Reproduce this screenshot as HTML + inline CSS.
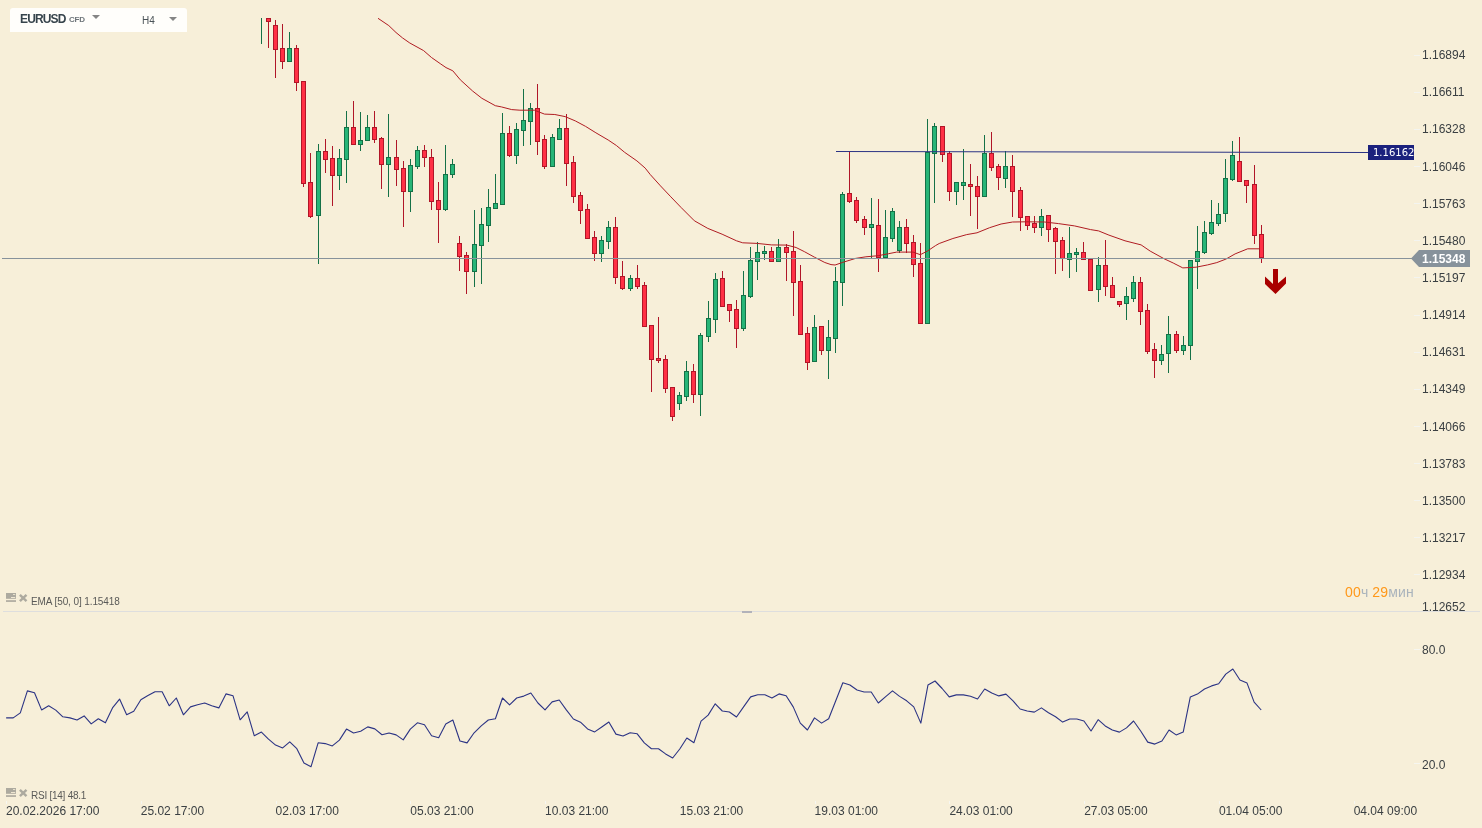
<!DOCTYPE html>
<html><head><meta charset="utf-8"><title>EURUSD H4</title>
<style>
html,body{margin:0;padding:0}
body{width:1482px;height:828px;background:#f7efd9;position:relative;overflow:hidden;font-family:"Liberation Sans",sans-serif;color:#3b4043}
svg{position:absolute;left:0;top:0}
div{position:absolute;white-space:nowrap}
.ax{left:1422px;font-size:12px;line-height:14px;height:14px}
.tm{top:804px;font-size:12px;line-height:14px}
.box{left:10px;top:8px;width:177px;height:24px;background:#fffefb;border-radius:3px 3px 0 0}
.sym{left:20px;top:12px;font-size:12px;line-height:14px;font-weight:bold;color:#37444c;letter-spacing:-0.85px}
.cfd{left:69px;top:15px;font-size:8px;line-height:10px;font-weight:bold;color:#6d7479;letter-spacing:-0.2px}
.tf{left:142px;top:14.5px;font-size:10px;line-height:12px;color:#4a5257}
.tri{width:0;height:0;border-left:4px solid transparent;border-right:4px solid transparent;border-top:4px solid #858585}
.ind{font-size:10px;line-height:12px;color:#5a5a58;left:31px;letter-spacing:-0.1px}
.blab{left:1373px;top:145px;width:41px;height:15px;overflow:hidden;font-family:"DejaVu Sans",sans-serif;font-size:10px;line-height:15px;color:#fff}
.glab{left:1422px;top:252px;font-size:12px;line-height:14px;color:#fff;font-weight:bold}
.timer{left:1345px;top:584px;font-size:14px;line-height:16px;color:#a9b3bc;letter-spacing:0.15px}
.timer b{font-weight:normal;color:#ff981a}
</style></head><body>
<svg width="1482" height="828" viewBox="0 0 1482 828">
<g shape-rendering="crispEdges">
<rect x="261" y="18" width="1" height="26" fill="#157147"/>
<rect x="268" y="18" width="1" height="30" fill="#b01628"/>
<rect x="266" y="18" width="5" height="4" fill="#b01628"/>
<rect x="267" y="19" width="3" height="2" fill="#ff3045"/>
<rect x="275" y="20" width="1" height="58" fill="#b01628"/>
<rect x="273" y="25" width="5" height="25" fill="#b01628"/>
<rect x="274" y="26" width="3" height="23" fill="#ff3045"/>
<rect x="282" y="24" width="1" height="45" fill="#b01628"/>
<rect x="280" y="48" width="5" height="14" fill="#b01628"/>
<rect x="281" y="49" width="3" height="12" fill="#ff3045"/>
<rect x="289" y="32" width="1" height="30" fill="#157147"/>
<rect x="287" y="48" width="5" height="14" fill="#157147"/>
<rect x="288" y="49" width="3" height="12" fill="#27b577"/>
<rect x="296" y="45" width="1" height="46" fill="#b01628"/>
<rect x="294" y="48" width="5" height="35" fill="#b01628"/>
<rect x="295" y="49" width="3" height="33" fill="#ff3045"/>
<rect x="303" y="81" width="1" height="106" fill="#b01628"/>
<rect x="301" y="81" width="5" height="103" fill="#b01628"/>
<rect x="302" y="82" width="3" height="101" fill="#ff3045"/>
<rect x="310" y="153" width="1" height="65" fill="#b01628"/>
<rect x="308" y="182" width="5" height="35" fill="#b01628"/>
<rect x="309" y="183" width="3" height="33" fill="#ff3045"/>
<rect x="318" y="144" width="1" height="120" fill="#157147"/>
<rect x="316" y="151" width="5" height="65" fill="#157147"/>
<rect x="317" y="152" width="3" height="63" fill="#27b577"/>
<rect x="325" y="139" width="1" height="34" fill="#b01628"/>
<rect x="323" y="151" width="5" height="9" fill="#b01628"/>
<rect x="324" y="152" width="3" height="7" fill="#ff3045"/>
<rect x="332" y="146" width="1" height="60" fill="#b01628"/>
<rect x="330" y="158" width="5" height="18" fill="#b01628"/>
<rect x="331" y="159" width="3" height="16" fill="#ff3045"/>
<rect x="339" y="149" width="1" height="41" fill="#157147"/>
<rect x="337" y="158" width="5" height="18" fill="#157147"/>
<rect x="338" y="159" width="3" height="16" fill="#27b577"/>
<rect x="346" y="111" width="1" height="72" fill="#157147"/>
<rect x="344" y="127" width="5" height="33" fill="#157147"/>
<rect x="345" y="128" width="3" height="31" fill="#27b577"/>
<rect x="353" y="101" width="1" height="44" fill="#b01628"/>
<rect x="351" y="127" width="5" height="18" fill="#b01628"/>
<rect x="352" y="128" width="3" height="16" fill="#ff3045"/>
<rect x="360" y="112" width="1" height="39" fill="#157147"/>
<rect x="358" y="140" width="5" height="5" fill="#157147"/>
<rect x="359" y="141" width="3" height="3" fill="#27b577"/>
<rect x="367" y="115" width="1" height="26" fill="#157147"/>
<rect x="365" y="127" width="5" height="14" fill="#157147"/>
<rect x="366" y="128" width="3" height="12" fill="#27b577"/>
<rect x="374" y="111" width="1" height="32" fill="#b01628"/>
<rect x="372" y="127" width="5" height="13" fill="#b01628"/>
<rect x="373" y="128" width="3" height="11" fill="#ff3045"/>
<rect x="381" y="137" width="1" height="52" fill="#b01628"/>
<rect x="379" y="138" width="5" height="27" fill="#b01628"/>
<rect x="380" y="139" width="3" height="25" fill="#ff3045"/>
<rect x="388" y="114" width="1" height="83" fill="#157147"/>
<rect x="386" y="157" width="5" height="8" fill="#157147"/>
<rect x="387" y="158" width="3" height="6" fill="#27b577"/>
<rect x="396" y="140" width="1" height="46" fill="#b01628"/>
<rect x="394" y="157" width="5" height="13" fill="#b01628"/>
<rect x="395" y="158" width="3" height="11" fill="#ff3045"/>
<rect x="403" y="161" width="1" height="66" fill="#b01628"/>
<rect x="401" y="168" width="5" height="24" fill="#b01628"/>
<rect x="402" y="169" width="3" height="22" fill="#ff3045"/>
<rect x="410" y="159" width="1" height="53" fill="#157147"/>
<rect x="408" y="165" width="5" height="27" fill="#157147"/>
<rect x="409" y="166" width="3" height="25" fill="#27b577"/>
<rect x="417" y="146" width="1" height="23" fill="#157147"/>
<rect x="415" y="150" width="5" height="17" fill="#157147"/>
<rect x="416" y="151" width="3" height="15" fill="#27b577"/>
<rect x="424" y="145" width="1" height="22" fill="#b01628"/>
<rect x="422" y="150" width="5" height="8" fill="#b01628"/>
<rect x="423" y="151" width="3" height="6" fill="#ff3045"/>
<rect x="431" y="149" width="1" height="61" fill="#b01628"/>
<rect x="429" y="157" width="5" height="45" fill="#b01628"/>
<rect x="430" y="158" width="3" height="43" fill="#ff3045"/>
<rect x="438" y="182" width="1" height="61" fill="#b01628"/>
<rect x="436" y="200" width="5" height="10" fill="#b01628"/>
<rect x="437" y="201" width="3" height="8" fill="#ff3045"/>
<rect x="445" y="145" width="1" height="66" fill="#157147"/>
<rect x="443" y="174" width="5" height="36" fill="#157147"/>
<rect x="444" y="175" width="3" height="34" fill="#27b577"/>
<rect x="452" y="159" width="1" height="19" fill="#157147"/>
<rect x="450" y="164" width="5" height="11" fill="#157147"/>
<rect x="451" y="165" width="3" height="9" fill="#27b577"/>
<rect x="459" y="236" width="1" height="35" fill="#b01628"/>
<rect x="457" y="243" width="5" height="14" fill="#b01628"/>
<rect x="458" y="244" width="3" height="12" fill="#ff3045"/>
<rect x="466" y="252" width="1" height="42" fill="#b01628"/>
<rect x="464" y="255" width="5" height="17" fill="#b01628"/>
<rect x="465" y="256" width="3" height="15" fill="#ff3045"/>
<rect x="474" y="210" width="1" height="77" fill="#157147"/>
<rect x="472" y="244" width="5" height="28" fill="#157147"/>
<rect x="473" y="245" width="3" height="26" fill="#27b577"/>
<rect x="481" y="208" width="1" height="76" fill="#157147"/>
<rect x="479" y="224" width="5" height="22" fill="#157147"/>
<rect x="480" y="225" width="3" height="20" fill="#27b577"/>
<rect x="488" y="189" width="1" height="53" fill="#157147"/>
<rect x="486" y="207" width="5" height="19" fill="#157147"/>
<rect x="487" y="208" width="3" height="17" fill="#27b577"/>
<rect x="495" y="174" width="1" height="35" fill="#157147"/>
<rect x="493" y="203" width="5" height="6" fill="#157147"/>
<rect x="494" y="204" width="3" height="4" fill="#27b577"/>
<rect x="502" y="113" width="1" height="92" fill="#157147"/>
<rect x="500" y="133" width="5" height="72" fill="#157147"/>
<rect x="501" y="134" width="3" height="70" fill="#27b577"/>
<rect x="509" y="126" width="1" height="31" fill="#b01628"/>
<rect x="507" y="133" width="5" height="23" fill="#b01628"/>
<rect x="508" y="134" width="3" height="21" fill="#ff3045"/>
<rect x="516" y="123" width="1" height="41" fill="#157147"/>
<rect x="514" y="129" width="5" height="27" fill="#157147"/>
<rect x="515" y="130" width="3" height="25" fill="#27b577"/>
<rect x="523" y="89" width="1" height="57" fill="#157147"/>
<rect x="521" y="120" width="5" height="11" fill="#157147"/>
<rect x="522" y="121" width="3" height="9" fill="#27b577"/>
<rect x="530" y="103" width="1" height="42" fill="#157147"/>
<rect x="528" y="108" width="5" height="14" fill="#157147"/>
<rect x="529" y="109" width="3" height="12" fill="#27b577"/>
<rect x="537" y="84" width="1" height="71" fill="#b01628"/>
<rect x="535" y="108" width="5" height="34" fill="#b01628"/>
<rect x="536" y="109" width="3" height="32" fill="#ff3045"/>
<rect x="544" y="135" width="1" height="34" fill="#b01628"/>
<rect x="542" y="139" width="5" height="28" fill="#b01628"/>
<rect x="543" y="140" width="3" height="26" fill="#ff3045"/>
<rect x="552" y="134" width="1" height="33" fill="#157147"/>
<rect x="550" y="137" width="5" height="30" fill="#157147"/>
<rect x="551" y="138" width="3" height="28" fill="#27b577"/>
<rect x="559" y="119" width="1" height="21" fill="#157147"/>
<rect x="557" y="128" width="5" height="12" fill="#157147"/>
<rect x="558" y="129" width="3" height="10" fill="#27b577"/>
<rect x="566" y="114" width="1" height="72" fill="#b01628"/>
<rect x="564" y="128" width="5" height="36" fill="#b01628"/>
<rect x="565" y="129" width="3" height="34" fill="#ff3045"/>
<rect x="573" y="156" width="1" height="47" fill="#b01628"/>
<rect x="571" y="162" width="5" height="35" fill="#b01628"/>
<rect x="572" y="163" width="3" height="33" fill="#ff3045"/>
<rect x="580" y="192" width="1" height="32" fill="#b01628"/>
<rect x="578" y="195" width="5" height="16" fill="#b01628"/>
<rect x="579" y="196" width="3" height="14" fill="#ff3045"/>
<rect x="587" y="204" width="1" height="35" fill="#b01628"/>
<rect x="585" y="209" width="5" height="30" fill="#b01628"/>
<rect x="586" y="210" width="3" height="28" fill="#ff3045"/>
<rect x="594" y="231" width="1" height="30" fill="#b01628"/>
<rect x="592" y="237" width="5" height="17" fill="#b01628"/>
<rect x="593" y="238" width="3" height="15" fill="#ff3045"/>
<rect x="601" y="236" width="1" height="26" fill="#157147"/>
<rect x="599" y="240" width="5" height="14" fill="#157147"/>
<rect x="600" y="241" width="3" height="12" fill="#27b577"/>
<rect x="608" y="221" width="1" height="28" fill="#157147"/>
<rect x="606" y="227" width="5" height="15" fill="#157147"/>
<rect x="607" y="228" width="3" height="13" fill="#27b577"/>
<rect x="615" y="217" width="1" height="67" fill="#b01628"/>
<rect x="613" y="227" width="5" height="51" fill="#b01628"/>
<rect x="614" y="228" width="3" height="49" fill="#ff3045"/>
<rect x="622" y="261" width="1" height="29" fill="#b01628"/>
<rect x="620" y="276" width="5" height="13" fill="#b01628"/>
<rect x="621" y="277" width="3" height="11" fill="#ff3045"/>
<rect x="630" y="275" width="1" height="16" fill="#157147"/>
<rect x="628" y="278" width="5" height="11" fill="#157147"/>
<rect x="629" y="279" width="3" height="9" fill="#27b577"/>
<rect x="637" y="265" width="1" height="24" fill="#b01628"/>
<rect x="635" y="278" width="5" height="9" fill="#b01628"/>
<rect x="636" y="279" width="3" height="7" fill="#ff3045"/>
<rect x="644" y="282" width="1" height="45" fill="#b01628"/>
<rect x="642" y="285" width="5" height="42" fill="#b01628"/>
<rect x="643" y="286" width="3" height="40" fill="#ff3045"/>
<rect x="651" y="325" width="1" height="67" fill="#b01628"/>
<rect x="649" y="325" width="5" height="35" fill="#b01628"/>
<rect x="650" y="326" width="3" height="33" fill="#ff3045"/>
<rect x="658" y="317" width="1" height="46" fill="#b01628"/>
<rect x="656" y="358" width="5" height="3" fill="#b01628"/>
<rect x="657" y="359" width="3" height="1" fill="#ff3045"/>
<rect x="665" y="355" width="1" height="38" fill="#b01628"/>
<rect x="663" y="359" width="5" height="30" fill="#b01628"/>
<rect x="664" y="360" width="3" height="28" fill="#ff3045"/>
<rect x="672" y="387" width="1" height="34" fill="#b01628"/>
<rect x="670" y="387" width="5" height="30" fill="#b01628"/>
<rect x="671" y="388" width="3" height="28" fill="#ff3045"/>
<rect x="679" y="392" width="1" height="18" fill="#157147"/>
<rect x="677" y="395" width="5" height="9" fill="#157147"/>
<rect x="678" y="396" width="3" height="7" fill="#27b577"/>
<rect x="686" y="361" width="1" height="40" fill="#157147"/>
<rect x="684" y="371" width="5" height="26" fill="#157147"/>
<rect x="685" y="372" width="3" height="24" fill="#27b577"/>
<rect x="693" y="364" width="1" height="39" fill="#b01628"/>
<rect x="691" y="371" width="5" height="24" fill="#b01628"/>
<rect x="692" y="372" width="3" height="22" fill="#ff3045"/>
<rect x="700" y="333" width="1" height="83" fill="#157147"/>
<rect x="698" y="335" width="5" height="60" fill="#157147"/>
<rect x="699" y="336" width="3" height="58" fill="#27b577"/>
<rect x="708" y="301" width="1" height="41" fill="#157147"/>
<rect x="706" y="318" width="5" height="19" fill="#157147"/>
<rect x="707" y="319" width="3" height="17" fill="#27b577"/>
<rect x="715" y="273" width="1" height="60" fill="#157147"/>
<rect x="713" y="279" width="5" height="41" fill="#157147"/>
<rect x="714" y="280" width="3" height="39" fill="#27b577"/>
<rect x="722" y="271" width="1" height="36" fill="#b01628"/>
<rect x="720" y="278" width="5" height="29" fill="#b01628"/>
<rect x="721" y="279" width="3" height="27" fill="#ff3045"/>
<rect x="729" y="304" width="1" height="18" fill="#b01628"/>
<rect x="727" y="304" width="5" height="7" fill="#b01628"/>
<rect x="728" y="305" width="3" height="5" fill="#ff3045"/>
<rect x="736" y="300" width="1" height="48" fill="#b01628"/>
<rect x="734" y="309" width="5" height="20" fill="#b01628"/>
<rect x="735" y="310" width="3" height="18" fill="#ff3045"/>
<rect x="743" y="271" width="1" height="60" fill="#157147"/>
<rect x="741" y="295" width="5" height="34" fill="#157147"/>
<rect x="742" y="296" width="3" height="32" fill="#27b577"/>
<rect x="750" y="247" width="1" height="51" fill="#157147"/>
<rect x="748" y="260" width="5" height="37" fill="#157147"/>
<rect x="749" y="261" width="3" height="35" fill="#27b577"/>
<rect x="757" y="242" width="1" height="38" fill="#157147"/>
<rect x="755" y="252" width="5" height="10" fill="#157147"/>
<rect x="756" y="253" width="3" height="8" fill="#27b577"/>
<rect x="764" y="246" width="1" height="14" fill="#157147"/>
<rect x="762" y="251" width="5" height="3" fill="#157147"/>
<rect x="763" y="252" width="3" height="1" fill="#27b577"/>
<rect x="771" y="247" width="1" height="15" fill="#b01628"/>
<rect x="769" y="251" width="5" height="11" fill="#b01628"/>
<rect x="770" y="252" width="3" height="9" fill="#ff3045"/>
<rect x="778" y="239" width="1" height="23" fill="#157147"/>
<rect x="776" y="247" width="5" height="15" fill="#157147"/>
<rect x="777" y="248" width="3" height="13" fill="#27b577"/>
<rect x="786" y="244" width="1" height="37" fill="#b01628"/>
<rect x="784" y="247" width="5" height="6" fill="#b01628"/>
<rect x="785" y="248" width="3" height="4" fill="#ff3045"/>
<rect x="793" y="231" width="1" height="85" fill="#b01628"/>
<rect x="791" y="251" width="5" height="32" fill="#b01628"/>
<rect x="792" y="252" width="3" height="30" fill="#ff3045"/>
<rect x="800" y="265" width="1" height="70" fill="#b01628"/>
<rect x="798" y="281" width="5" height="54" fill="#b01628"/>
<rect x="799" y="282" width="3" height="52" fill="#ff3045"/>
<rect x="807" y="327" width="1" height="43" fill="#b01628"/>
<rect x="805" y="333" width="5" height="30" fill="#b01628"/>
<rect x="806" y="334" width="3" height="28" fill="#ff3045"/>
<rect x="814" y="315" width="1" height="47" fill="#157147"/>
<rect x="812" y="327" width="5" height="35" fill="#157147"/>
<rect x="813" y="328" width="3" height="33" fill="#27b577"/>
<rect x="821" y="326" width="1" height="29" fill="#b01628"/>
<rect x="819" y="326" width="5" height="25" fill="#b01628"/>
<rect x="820" y="327" width="3" height="23" fill="#ff3045"/>
<rect x="828" y="320" width="1" height="59" fill="#157147"/>
<rect x="826" y="337" width="5" height="14" fill="#157147"/>
<rect x="827" y="338" width="3" height="12" fill="#27b577"/>
<rect x="835" y="267" width="1" height="86" fill="#157147"/>
<rect x="833" y="281" width="5" height="58" fill="#157147"/>
<rect x="834" y="282" width="3" height="56" fill="#27b577"/>
<rect x="842" y="192" width="1" height="114" fill="#157147"/>
<rect x="840" y="194" width="5" height="89" fill="#157147"/>
<rect x="841" y="195" width="3" height="87" fill="#27b577"/>
<rect x="849" y="151" width="1" height="52" fill="#b01628"/>
<rect x="847" y="193" width="5" height="9" fill="#b01628"/>
<rect x="848" y="194" width="3" height="7" fill="#ff3045"/>
<rect x="856" y="197" width="1" height="26" fill="#b01628"/>
<rect x="854" y="200" width="5" height="21" fill="#b01628"/>
<rect x="855" y="201" width="3" height="19" fill="#ff3045"/>
<rect x="864" y="216" width="1" height="19" fill="#b01628"/>
<rect x="862" y="219" width="5" height="9" fill="#b01628"/>
<rect x="863" y="220" width="3" height="7" fill="#ff3045"/>
<rect x="871" y="198" width="1" height="60" fill="#157147"/>
<rect x="869" y="224" width="5" height="4" fill="#157147"/>
<rect x="870" y="225" width="3" height="2" fill="#27b577"/>
<rect x="878" y="199" width="1" height="73" fill="#b01628"/>
<rect x="876" y="225" width="5" height="33" fill="#b01628"/>
<rect x="877" y="226" width="3" height="31" fill="#ff3045"/>
<rect x="885" y="210" width="1" height="48" fill="#157147"/>
<rect x="883" y="237" width="5" height="21" fill="#157147"/>
<rect x="884" y="238" width="3" height="19" fill="#27b577"/>
<rect x="892" y="208" width="1" height="34" fill="#157147"/>
<rect x="890" y="211" width="5" height="28" fill="#157147"/>
<rect x="891" y="212" width="3" height="26" fill="#27b577"/>
<rect x="899" y="221" width="1" height="32" fill="#157147"/>
<rect x="897" y="227" width="5" height="24" fill="#157147"/>
<rect x="898" y="228" width="3" height="22" fill="#27b577"/>
<rect x="906" y="219" width="1" height="34" fill="#b01628"/>
<rect x="904" y="227" width="5" height="17" fill="#b01628"/>
<rect x="905" y="228" width="3" height="15" fill="#ff3045"/>
<rect x="913" y="235" width="1" height="42" fill="#b01628"/>
<rect x="911" y="242" width="5" height="23" fill="#b01628"/>
<rect x="912" y="243" width="3" height="21" fill="#ff3045"/>
<rect x="920" y="243" width="1" height="81" fill="#b01628"/>
<rect x="918" y="263" width="5" height="61" fill="#b01628"/>
<rect x="919" y="264" width="3" height="59" fill="#ff3045"/>
<rect x="927" y="119" width="1" height="205" fill="#157147"/>
<rect x="925" y="152" width="5" height="172" fill="#157147"/>
<rect x="926" y="153" width="3" height="170" fill="#27b577"/>
<rect x="934" y="123" width="1" height="80" fill="#157147"/>
<rect x="932" y="126" width="5" height="28" fill="#157147"/>
<rect x="933" y="127" width="3" height="26" fill="#27b577"/>
<rect x="942" y="126" width="1" height="36" fill="#b01628"/>
<rect x="940" y="126" width="5" height="29" fill="#b01628"/>
<rect x="941" y="127" width="3" height="27" fill="#ff3045"/>
<rect x="949" y="151" width="1" height="50" fill="#b01628"/>
<rect x="947" y="153" width="5" height="39" fill="#b01628"/>
<rect x="948" y="154" width="3" height="37" fill="#ff3045"/>
<rect x="956" y="182" width="1" height="23" fill="#157147"/>
<rect x="954" y="182" width="5" height="10" fill="#157147"/>
<rect x="955" y="183" width="3" height="8" fill="#27b577"/>
<rect x="963" y="149" width="1" height="51" fill="#157147"/>
<rect x="961" y="182" width="5" height="4" fill="#157147"/>
<rect x="962" y="183" width="3" height="2" fill="#27b577"/>
<rect x="970" y="164" width="1" height="52" fill="#b01628"/>
<rect x="968" y="184" width="5" height="3" fill="#b01628"/>
<rect x="969" y="185" width="3" height="1" fill="#ff3045"/>
<rect x="977" y="176" width="1" height="53" fill="#b01628"/>
<rect x="975" y="186" width="5" height="11" fill="#b01628"/>
<rect x="976" y="187" width="3" height="9" fill="#ff3045"/>
<rect x="984" y="135" width="1" height="62" fill="#157147"/>
<rect x="982" y="153" width="5" height="44" fill="#157147"/>
<rect x="983" y="154" width="3" height="42" fill="#27b577"/>
<rect x="991" y="132" width="1" height="39" fill="#b01628"/>
<rect x="989" y="153" width="5" height="15" fill="#b01628"/>
<rect x="990" y="154" width="3" height="13" fill="#ff3045"/>
<rect x="998" y="164" width="1" height="26" fill="#b01628"/>
<rect x="996" y="166" width="5" height="12" fill="#b01628"/>
<rect x="997" y="167" width="3" height="10" fill="#ff3045"/>
<rect x="1005" y="151" width="1" height="37" fill="#157147"/>
<rect x="1003" y="166" width="5" height="13" fill="#157147"/>
<rect x="1004" y="167" width="3" height="11" fill="#27b577"/>
<rect x="1012" y="155" width="1" height="62" fill="#b01628"/>
<rect x="1010" y="166" width="5" height="26" fill="#b01628"/>
<rect x="1011" y="167" width="3" height="24" fill="#ff3045"/>
<rect x="1020" y="187" width="1" height="44" fill="#b01628"/>
<rect x="1018" y="190" width="5" height="28" fill="#b01628"/>
<rect x="1019" y="191" width="3" height="26" fill="#ff3045"/>
<rect x="1027" y="216" width="1" height="14" fill="#b01628"/>
<rect x="1025" y="216" width="5" height="10" fill="#b01628"/>
<rect x="1026" y="217" width="3" height="8" fill="#ff3045"/>
<rect x="1034" y="216" width="1" height="17" fill="#b01628"/>
<rect x="1032" y="223" width="5" height="5" fill="#b01628"/>
<rect x="1033" y="224" width="3" height="3" fill="#ff3045"/>
<rect x="1041" y="209" width="1" height="27" fill="#157147"/>
<rect x="1039" y="216" width="5" height="12" fill="#157147"/>
<rect x="1040" y="217" width="3" height="10" fill="#27b577"/>
<rect x="1048" y="215" width="1" height="27" fill="#b01628"/>
<rect x="1046" y="215" width="5" height="15" fill="#b01628"/>
<rect x="1047" y="216" width="3" height="13" fill="#ff3045"/>
<rect x="1055" y="227" width="1" height="47" fill="#b01628"/>
<rect x="1053" y="228" width="5" height="14" fill="#b01628"/>
<rect x="1054" y="229" width="3" height="12" fill="#ff3045"/>
<rect x="1062" y="237" width="1" height="34" fill="#b01628"/>
<rect x="1060" y="240" width="5" height="19" fill="#b01628"/>
<rect x="1061" y="241" width="3" height="17" fill="#ff3045"/>
<rect x="1069" y="227" width="1" height="51" fill="#157147"/>
<rect x="1067" y="253" width="5" height="7" fill="#157147"/>
<rect x="1068" y="254" width="3" height="5" fill="#27b577"/>
<rect x="1076" y="248" width="1" height="24" fill="#157147"/>
<rect x="1074" y="252" width="5" height="3" fill="#157147"/>
<rect x="1075" y="253" width="3" height="1" fill="#27b577"/>
<rect x="1083" y="242" width="1" height="18" fill="#b01628"/>
<rect x="1081" y="252" width="5" height="8" fill="#b01628"/>
<rect x="1082" y="253" width="3" height="6" fill="#ff3045"/>
<rect x="1090" y="259" width="1" height="32" fill="#b01628"/>
<rect x="1088" y="259" width="5" height="32" fill="#b01628"/>
<rect x="1089" y="260" width="3" height="30" fill="#ff3045"/>
<rect x="1098" y="257" width="1" height="45" fill="#157147"/>
<rect x="1096" y="265" width="5" height="25" fill="#157147"/>
<rect x="1097" y="266" width="3" height="23" fill="#27b577"/>
<rect x="1105" y="240" width="1" height="56" fill="#b01628"/>
<rect x="1103" y="265" width="5" height="22" fill="#b01628"/>
<rect x="1104" y="266" width="3" height="20" fill="#ff3045"/>
<rect x="1112" y="277" width="1" height="21" fill="#b01628"/>
<rect x="1110" y="285" width="5" height="13" fill="#b01628"/>
<rect x="1111" y="286" width="3" height="11" fill="#ff3045"/>
<rect x="1119" y="301" width="1" height="6" fill="#b01628"/>
<rect x="1117" y="301" width="5" height="4" fill="#b01628"/>
<rect x="1118" y="302" width="3" height="2" fill="#ff3045"/>
<rect x="1126" y="287" width="1" height="33" fill="#157147"/>
<rect x="1124" y="296" width="5" height="8" fill="#157147"/>
<rect x="1125" y="297" width="3" height="6" fill="#27b577"/>
<rect x="1133" y="276" width="1" height="26" fill="#157147"/>
<rect x="1131" y="282" width="5" height="17" fill="#157147"/>
<rect x="1132" y="283" width="3" height="15" fill="#27b577"/>
<rect x="1140" y="277" width="1" height="48" fill="#b01628"/>
<rect x="1138" y="282" width="5" height="30" fill="#b01628"/>
<rect x="1139" y="283" width="3" height="28" fill="#ff3045"/>
<rect x="1147" y="304" width="1" height="50" fill="#b01628"/>
<rect x="1145" y="310" width="5" height="42" fill="#b01628"/>
<rect x="1146" y="311" width="3" height="40" fill="#ff3045"/>
<rect x="1154" y="343" width="1" height="35" fill="#b01628"/>
<rect x="1152" y="349" width="5" height="12" fill="#b01628"/>
<rect x="1153" y="350" width="3" height="10" fill="#ff3045"/>
<rect x="1161" y="345" width="1" height="20" fill="#157147"/>
<rect x="1159" y="354" width="5" height="7" fill="#157147"/>
<rect x="1160" y="355" width="3" height="5" fill="#27b577"/>
<rect x="1168" y="316" width="1" height="57" fill="#157147"/>
<rect x="1166" y="334" width="5" height="20" fill="#157147"/>
<rect x="1167" y="335" width="3" height="18" fill="#27b577"/>
<rect x="1176" y="331" width="1" height="22" fill="#b01628"/>
<rect x="1174" y="334" width="5" height="17" fill="#b01628"/>
<rect x="1175" y="335" width="3" height="15" fill="#ff3045"/>
<rect x="1183" y="336" width="1" height="19" fill="#157147"/>
<rect x="1181" y="345" width="5" height="6" fill="#157147"/>
<rect x="1182" y="346" width="3" height="4" fill="#27b577"/>
<rect x="1190" y="260" width="1" height="100" fill="#157147"/>
<rect x="1188" y="260" width="5" height="86" fill="#157147"/>
<rect x="1189" y="261" width="3" height="84" fill="#27b577"/>
<rect x="1197" y="226" width="1" height="63" fill="#157147"/>
<rect x="1195" y="251" width="5" height="11" fill="#157147"/>
<rect x="1196" y="252" width="3" height="9" fill="#27b577"/>
<rect x="1204" y="221" width="1" height="33" fill="#157147"/>
<rect x="1202" y="232" width="5" height="21" fill="#157147"/>
<rect x="1203" y="233" width="3" height="19" fill="#27b577"/>
<rect x="1211" y="200" width="1" height="35" fill="#157147"/>
<rect x="1209" y="222" width="5" height="12" fill="#157147"/>
<rect x="1210" y="223" width="3" height="10" fill="#27b577"/>
<rect x="1218" y="203" width="1" height="23" fill="#157147"/>
<rect x="1216" y="214" width="5" height="10" fill="#157147"/>
<rect x="1217" y="215" width="3" height="8" fill="#27b577"/>
<rect x="1225" y="159" width="1" height="63" fill="#157147"/>
<rect x="1223" y="178" width="5" height="36" fill="#157147"/>
<rect x="1224" y="179" width="3" height="34" fill="#27b577"/>
<rect x="1232" y="141" width="1" height="40" fill="#157147"/>
<rect x="1230" y="155" width="5" height="25" fill="#157147"/>
<rect x="1231" y="156" width="3" height="23" fill="#27b577"/>
<rect x="1239" y="137" width="1" height="45" fill="#b01628"/>
<rect x="1237" y="161" width="5" height="21" fill="#b01628"/>
<rect x="1238" y="162" width="3" height="19" fill="#ff3045"/>
<rect x="1246" y="180" width="1" height="23" fill="#b01628"/>
<rect x="1244" y="180" width="5" height="6" fill="#b01628"/>
<rect x="1245" y="181" width="3" height="4" fill="#ff3045"/>
<rect x="1254" y="165" width="1" height="79" fill="#b01628"/>
<rect x="1252" y="184" width="5" height="52" fill="#b01628"/>
<rect x="1253" y="185" width="3" height="50" fill="#ff3045"/>
<rect x="1261" y="225" width="1" height="38" fill="#b01628"/>
<rect x="1259" y="234" width="5" height="24" fill="#b01628"/>
<rect x="1260" y="235" width="3" height="22" fill="#ff3045"/>
</g>
<polyline points="378,18.3 388.8,25.6 396,32.5 402.5,37.9 409.8,43 423.6,50.6 431.5,57.5 440.2,63.6 446,67.6 452.8,70.8 460.3,79.8 472.7,91.1 481.9,98.3 495.3,105.7 501.4,106.9 511.7,109.6 519.9,110.2 534.3,110.2 544.5,114.1 554.8,114.5 565.1,116.6 575.3,120.9 585.6,126.4 595.9,132.8 608.2,140 616.4,145.5 624.6,152.3 636.9,160.9 645.2,168.1 650.3,174.6 660.5,185.9 670.8,196.8 681.1,207.5 694.4,220.8 707.8,228.4 722.1,234.2 736.5,240.8 742.7,242.8 757,243.4 771.4,244.9 786.8,245.1 796.1,247.5 804.3,251.6 814.5,257.2 824.8,262.5 831,264.6 835.1,265 842.3,262.5 855.6,258.4 865.9,256.8 878.2,255.7 888.5,253.7 896.7,252.1 913.1,252.1 920.3,254.7 927.5,251 935.7,245.5 939.2,243.5 952.9,238.5 966.7,234.6 977,232.8 989.6,227.7 1001.1,224 1012.6,222 1026.4,221.8 1044.7,222 1058.5,223.6 1074.5,225.9 1090.6,229.6 1098.6,230.9 1108.9,235.1 1125,240.8 1141.1,244.9 1150.2,251.1 1164,258.7 1173.2,263 1182.8,267.9 1196.1,267.2 1207.6,264.9 1216.8,262.6 1225.9,259.1 1235.1,253.9 1247.7,248.8 1260,248.8" fill="none" stroke="#b01c22" stroke-width="1" stroke-linejoin="round"/>
<polyline points="6.13,717.9 13.22,717.9 20.31,712.9 27.4,690.9 34.49,692.8 41.58,709.9 48.67,705.8 55.76,710.1 62.85,716.8 69.95,717.9 77.04,720 84.13,715.9 91.22,723.9 98.31,718.7 105.4,722.8 112.49,707.9 119.58,699.1 126.67,714.8 133.76,711.2 140.85,699.7 147.95,695.6 155.04,691.7 162.13,691.7 169.22,705.8 176.31,698 183.4,714.8 190.49,706.9 197.58,704.7 204.67,703 211.76,705.8 218.85,707.9 225.95,693.9 233.04,695.8 240.13,719.8 247.22,711.8 254.31,735.8 261.4,732.1 268.49,739.2 275.58,745.1 282.67,747.9 289.76,741.8 296.85,748.7 303.95,763 311.04,766.7 318.13,742.8 325.22,743.6 332.31,745.9 339.4,740.1 346.49,729.1 353.58,733 360.67,731.3 367.76,726.9 374.85,728.9 381.95,734.7 389.04,733 396.13,734.9 403.22,739.9 410.31,729.1 417.4,722.8 424.49,724.8 431.58,735.8 438.67,737.7 445.76,723.9 452.85,720 459.95,741 467.04,742.9 474.13,732.8 481.22,725.9 488.31,720 495.4,718.7 502.49,698 509.58,704.9 516.67,698 523.76,696.1 530.85,693 537.95,703 545.04,709.9 552.13,701.9 559.22,700 566.31,709.9 573.4,719 580.49,722.2 587.58,728.9 594.67,731.9 601.76,727 608.85,722 615.95,734.1 623.04,736 630.13,732.8 637.22,733.8 644.31,742.9 651.4,748.7 658.49,748.7 665.58,753.9 672.67,758 679.76,749 686.85,738 693.95,742.7 701.04,721.1 708.13,715.1 715.22,703.8 722.31,711 729.4,712 736.49,717 743.58,706.9 750.67,696.9 757.76,694.8 764.85,694.8 771.95,698 779.04,693.9 786.13,695.8 793.22,706.9 800.31,723.1 807.4,730 814.49,717.9 821.58,723.1 828.67,718.7 835.76,700.8 842.85,682.7 849.95,685 857.04,690 864.13,692 871.22,692 878.31,703 885.4,696.9 892.49,690.9 899.58,696.4 906.67,700.8 913.76,706.9 920.85,723.1 927.95,685.1 935.04,681 942.13,688.5 949.22,696.9 956.31,694.9 963.4,694.9 970.49,696.2 977.58,699 984.67,689 991.76,693.1 998.85,695.9 1005.95,694.1 1013.04,700.8 1020.13,709 1027.22,711 1034.31,712.1 1041.4,707.9 1048.49,712.8 1055.58,716.7 1062.67,722.1 1069.76,719 1076.85,719 1083.95,721 1091.04,731 1098.13,719.7 1105.22,725.9 1112.31,730 1119.4,732.1 1126.49,727.9 1133.58,721 1140.67,731 1147.76,742.1 1154.85,744.1 1161.95,741 1169.04,730 1176.13,734.9 1183.22,732.1 1190.31,696.9 1197.4,694.1 1204.49,689 1211.58,685.9 1218.67,683.8 1225.76,674.1 1232.85,669 1239.95,680 1247.04,683.1 1254.13,702.1 1261.22,710" fill="none" stroke="#2b3384" stroke-width="1.1" stroke-linejoin="round"/>
<g shape-rendering="crispEdges">
<rect x="2" y="258" width="1410" height="1" fill="#87929b"/>
<rect x="3" y="611" width="1477" height="1" fill="#dedede"/>
<rect x="742" y="611" width="10" height="2" fill="#b2b2ba"/>
<rect x="1414" y="55" width="6" height="1" fill="#f3f4f0"/>
<rect x="1414" y="92" width="6" height="1" fill="#f3f4f0"/>
<rect x="1414" y="129" width="6" height="1" fill="#f3f4f0"/>
<rect x="1414" y="166" width="6" height="1" fill="#f3f4f0"/>
<rect x="1414" y="203" width="6" height="1" fill="#f3f4f0"/>
<rect x="1414" y="240" width="6" height="1" fill="#f3f4f0"/>
<rect x="1414" y="277" width="6" height="1" fill="#f3f4f0"/>
<rect x="1414" y="315" width="6" height="1" fill="#f3f4f0"/>
<rect x="1414" y="352" width="6" height="1" fill="#f3f4f0"/>
<rect x="1414" y="389" width="6" height="1" fill="#f3f4f0"/>
<rect x="1414" y="426" width="6" height="1" fill="#f3f4f0"/>
<rect x="1414" y="463" width="6" height="1" fill="#f3f4f0"/>
<rect x="1414" y="500" width="6" height="1" fill="#f3f4f0"/>
<rect x="1414" y="537" width="6" height="1" fill="#f3f4f0"/>
<rect x="1414" y="574" width="6" height="1" fill="#f3f4f0"/>
<rect x="1414" y="649" width="6" height="1" fill="#f6f6f0"/>
<rect x="1414" y="763" width="6" height="1" fill="#f6f6f0"/>
<rect x="6" y="801" width="1" height="3" fill="#f6f6f0"/>
<rect x="141" y="801" width="1" height="3" fill="#f6f6f0"/>
<rect x="276" y="801" width="1" height="3" fill="#f6f6f0"/>
<rect x="410" y="801" width="1" height="3" fill="#f6f6f0"/>
<rect x="545" y="801" width="1" height="3" fill="#f6f6f0"/>
<rect x="680" y="801" width="1" height="3" fill="#f6f6f0"/>
<rect x="815" y="801" width="1" height="3" fill="#f6f6f0"/>
<rect x="949" y="801" width="1" height="3" fill="#f6f6f0"/>
<rect x="1084" y="801" width="1" height="3" fill="#f6f6f0"/>
<rect x="1219" y="801" width="1" height="3" fill="#f6f6f0"/>
<rect x="1354" y="801" width="1" height="3" fill="#f6f6f0"/>
</g>
<line x1="836" y1="151.5" x2="1368" y2="152.5" stroke="#2b3384" stroke-width="1"/>
<rect x="1368" y="145" width="46" height="15" fill="#1b217d"/>
<polygon points="1411,258.5 1419,250 1470,250 1470,267 1419,267" fill="#87929b"/>
<path d="M1273 269 H1278 V283.3 L1286 276.5 V283.5 L1275.5 294 L1265 284 V276.5 L1273 284 Z" fill="#a90000"/>
<g fill="#adaa9f"><rect x="6" y="593" width="10" height="5.8"/><rect x="6" y="600.2" width="10" height="1.7"/><rect x="13" y="594.1" width="2.2" height="0.8" fill="#f7efd9"/><rect x="11" y="597.1" width="4.2" height="0.9" fill="#f7efd9"/></g><path d="M19.9 594.8 L26.5 601.2 M26.5 594.8 L19.9 601.2" stroke="#adaa9f" stroke-width="2.4" fill="none"/>
<g fill="#adaa9f"><rect x="6" y="788" width="10" height="5.8"/><rect x="6" y="795.2" width="10" height="1.7"/><rect x="13" y="789.1" width="2.2" height="0.8" fill="#f7efd9"/><rect x="11" y="792.1" width="4.2" height="0.9" fill="#f7efd9"/></g><path d="M19.9 789.8 L26.5 796.2 M26.5 789.8 L19.9 796.2" stroke="#adaa9f" stroke-width="2.4" fill="none"/>
</svg>
<div class="box"></div>
<div class="sym">EURUSD</div><div class="cfd">CFD</div><div class="tri" style="left:92px;top:15px"></div>
<div class="tf">H4</div><div class="tri" style="left:169px;top:17px"></div>
<div class="ax" style="top:48px">1.16894</div>
<div class="ax" style="top:85px">1.16611</div>
<div class="ax" style="top:122px">1.16328</div>
<div class="ax" style="top:160px">1.16046</div>
<div class="ax" style="top:197px">1.15763</div>
<div class="ax" style="top:234px">1.15480</div>
<div class="ax" style="top:271px">1.15197</div>
<div class="ax" style="top:308px">1.14914</div>
<div class="ax" style="top:345px">1.14631</div>
<div class="ax" style="top:382px">1.14349</div>
<div class="ax" style="top:420px">1.14066</div>
<div class="ax" style="top:457px">1.13783</div>
<div class="ax" style="top:494px">1.13500</div>
<div class="ax" style="top:531px">1.13217</div>
<div class="ax" style="top:568px">1.12934</div>
<div class="ax" style="top:600px">1.12652</div>
<div class="ax" style="top:643px">80.0</div>
<div class="ax" style="top:758px">20.0</div>
<div class="tm" style="left:6px">20.02.2026 17:00</div>
<div class="tm" style="left:140.77px">25.02 17:00</div>
<div class="tm" style="left:275.54px">02.03 17:00</div>
<div class="tm" style="left:410.31px">05.03 21:00</div>
<div class="tm" style="left:545.08px">10.03 21:00</div>
<div class="tm" style="left:679.85px">15.03 21:00</div>
<div class="tm" style="left:814.62px">19.03 01:00</div>
<div class="tm" style="left:949.39px">24.03 01:00</div>
<div class="tm" style="left:1084.16px">27.03 05:00</div>
<div class="tm" style="left:1218.93px">01.04 05:00</div>
<div class="tm" style="left:1353.7px">04.04 09:00</div>
<div class="blab">1.16162</div>
<div class="glab">1.15348</div>
<div class="timer"><b>00</b>ч <b>29</b>мин</div>
<div class="ind" style="top:596px">EMA [50, 0] 1.15418</div>
<div class="ind" style="top:790px;letter-spacing:-0.25px">RSI [14] 48.1</div>
</body></html>
